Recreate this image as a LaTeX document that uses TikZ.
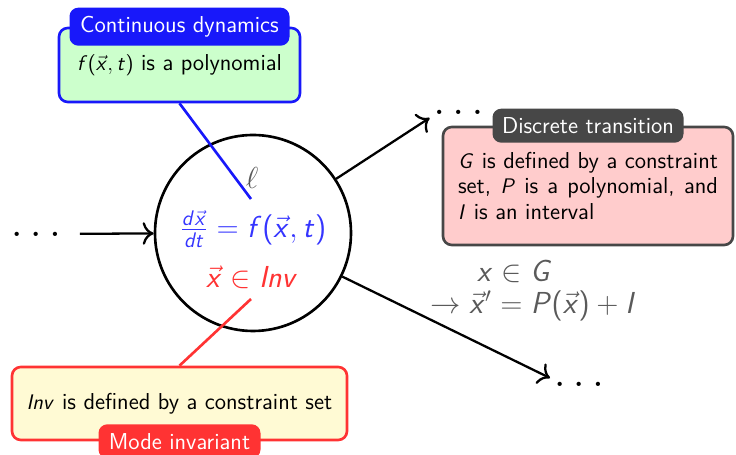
\documentclass[tikz,border=0pt,11pt]{standalone}
\usepackage{xcolor}
\usepackage{tikz}
\usetikzlibrary{arrows.meta, positioning, shapes.geometric, calc}
% sans serif letters in math, keep \ell and \vec from cmm
\DeclareSymbolFont{sfletters}{OT1}{cmss}{m}{sl}
\SetSymbolFont{operators}{normal}{OT1}{cmss}{m}{n}
\SetMathAlphabet{\mathit}{normal}{OT1}{cmss}{m}{sl}
\DeclareMathSymbol{d}{\mathalpha}{sfletters}{`d}
\DeclareMathSymbol{f}{\mathalpha}{sfletters}{`f}
\DeclareMathSymbol{t}{\mathalpha}{sfletters}{`t}
\DeclareMathSymbol{x}{\mathalpha}{sfletters}{`x}
\DeclareMathSymbol{G}{\mathalpha}{sfletters}{`G}
\DeclareMathSymbol{P}{\mathalpha}{sfletters}{`P}
\DeclareMathSymbol{I}{\mathalpha}{sfletters}{`I}
\definecolor{DynBlue}{HTML}{1818FA}
\definecolor{FlowBlue}{HTML}{3535FF}
\definecolor{DynGreen}{HTML}{CCFFCC}
\definecolor{JumpGray}{HTML}{474747}
\definecolor{JumpPink}{HTML}{FFCCCC}
\definecolor{InvRed}{HTML}{FF3333}
\definecolor{InvYellow}{HTML}{FFFAD4}
\definecolor{Slate}{HTML}{5A5A5A}

\begin{document}
\begin{tikzpicture}[
  font=\sffamily\fontsize{13.1}{14.4}\selectfont,
  big/.style={font=\fontsize{17.3}{20}\selectfont},
  frame/.style={rounded corners=5pt, line width=1.5pt, align=center},
  dynbox/.style={frame, draw=DynBlue, fill=DynGreen, minimum width=4.82cm, minimum height=1.48cm},
  jumpbox/.style={frame, draw=JumpGray, fill=JumpPink, minimum width=5.8cm, minimum height=2.36cm, text width=5.2cm, align=justify},
  invbox/.style={frame, draw=InvRed, fill=InvYellow, minimum width=6.7cm, minimum height=1.46cm},
  tag/.style={rounded corners=5pt, text=white, minimum height=0.68cm, inner sep=0pt},
  mode/.style={circle, draw=black, line width=1.5pt, minimum size=3.92cm},
  dots/.style={font=\fontsize{35}{35}\selectfont, inner sep=2pt},
  arrow/.style={-{To[length=2.2mm,width=4.5mm]}, line width=1.3pt, draw=black},
  link/.style={line width=1.5pt}
]
\useasboundingbox (0,0) rectangle (14.72,9.1);

\node[mode] (mode) at (5.06,4.44) {};
\node[big, text=FlowBlue] (flow) at (5.06,4.52) {$\frac{d\vec{x}}{dt} = f(\vec{x},t)$};
\node[big, text=InvRed] (inv) at (5.04,3.56) {$\vec{x} \in \mathit{Inv}$};
\node[big, text=Slate] (ell) at (5.04,5.54) {$\ell$};

\node[dynbox] (dyn) at (3.59,7.8) {$f(\vec{x},t)$ is a polynomial};
\node[tag, fill=DynBlue, minimum width=4.4cm, minimum height=0.76cm] (dyntag) at (dyn.north) {Continuous dynamics};

\node[jumpbox] (jump) at (11.76,5.38) {$G$ is defined by a constraint\linebreak set, $P$ is a polynomial, and\linebreak $I$ is an interval};
\node[tag, fill=JumpGray, minimum width=3.82cm] (jumptag) at (jump.north) {Discrete transition};

\node[invbox] (invariant) at (3.59,1.03) {$\mathit{Inv}$ is defined by a constraint set};
\node[tag, fill=InvRed, minimum width=3.24cm] (invtag) at (invariant.south) {Mode invariant};

\node[dots] (leftdots) at (0.72,4.42) {$\ldots$};
\node[dots] (updots) at (9.17,6.86) {$\ldots$};
\node[dots] (downdots) at (11.58,1.42) {$\ldots$};

\node[big, text=Slate] (guard) at (10.3,3.67) {$x \in G$};
\node[big, text=Slate] (reset) at (10.68,2.99) {$\rightarrow \vec{x}' = P(\vec{x}) + I$};

\coordinate (flowend) at (5.02,5.12);
\coordinate (invend) at (5.02,3.12);

\draw[link, draw=DynBlue] (dyn.south) -- (flowend);
\draw[link, draw=InvRed] (invariant.north) -- (invend);

\draw[arrow, shorten <=0.3cm] (leftdots) -- (mode);
\draw[arrow] (mode) -- (updots.south west);
\draw[arrow] (mode) -- (downdots.north west);
\end{tikzpicture}
\end{document}
